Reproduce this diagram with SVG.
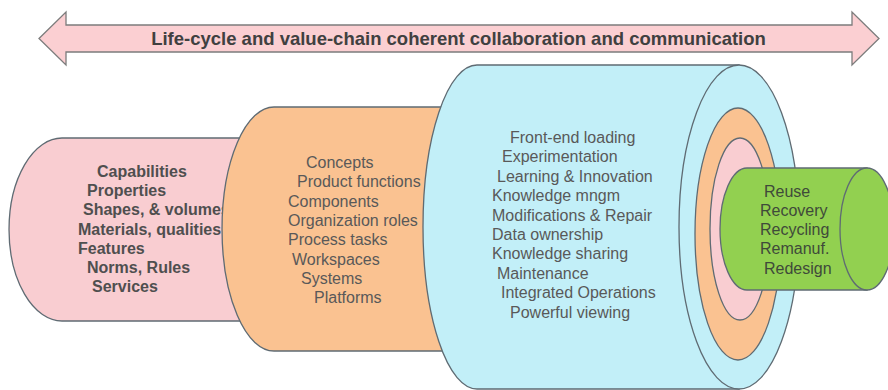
<svg xmlns="http://www.w3.org/2000/svg" width="888" height="390" viewBox="0 0 888 390">
<style>
.shape{stroke:#5f6b73;stroke-width:1.3}
.pink{fill:#f9cdd1}
.orange{fill:#fac291}
.blue{fill:#c2eff8}
.green{fill:#92d050}
text{font-family:"Liberation Sans",Arial,sans-serif;font-size:16px;fill:#595959}
.b{font-weight:bold;fill:#4f4f4f}
.g{fill:#3f4a3a}
</style>
<rect width="888" height="390" fill="#ffffff"/>
<g id="top-arrow">
<polygon points="39,38.5 66,12 66,25 852,25 852,12 879,38.5 852,65 852,52 66,52 66,65" fill="#fbcfd2" stroke="#7c7c7c" stroke-width="1.3"/>
<text x="458.5" y="45" text-anchor="middle" class="b" style="font-size:18.5px;fill:#404040">Life-cycle and value-chain coherent collaboration and communication</text>
</g>
<g id="pink-cylinder">
<path class="shape pink" d="M62,138 H290 V321 H62 A53 91.5 0 0 1 62 138 Z"/>
<text class="b" x="97" y="177">Capabilities</text>
<text class="b" x="87" y="196.2">Properties</text>
<text class="b" x="83" y="215.4">Shapes, &amp; volumes</text>
<text class="b" x="78" y="234.6">Materials, qualities</text>
<text class="b" x="78" y="253.8">Features</text>
<text class="b" x="87" y="273">Norms, Rules</text>
<text class="b" x="92" y="292.2">Services</text>
</g>
<g id="orange-cylinder">
<path class="shape orange" d="M274,107 H480 V351 H274 A52 122 0 0 1 274 107 Z"/>
<text x="306" y="168">Concepts</text>
<text x="297" y="187.3">Product functions</text>
<text x="288" y="206.6">Components</text>
<text x="288" y="225.9">Organization roles</text>
<text x="288" y="245.2">Process tasks</text>
<text x="292" y="264.5">Workspaces</text>
<text x="301" y="283.8">Systems</text>
<text x="314" y="303.1">Platforms</text>
</g>
<g id="blue-cylinder">
<path class="shape blue" d="M477,65 H739 V389 H477 A54 162 0 0 1 477 65 Z"/>
<ellipse class="shape blue" cx="739" cy="227" rx="60" ry="162"/>
<text x="510" y="143">Front-end loading</text>
<text x="502" y="162.4">Experimentation</text>
<text x="497" y="181.8">Learning &amp; Innovation</text>
<text x="492" y="201.2">Knowledge mngm</text>
<text x="492" y="220.6">Modifications &amp; Repair</text>
<text x="492" y="240">Data ownership</text>
<text x="492" y="259.4">Knowledge sharing</text>
<text x="497" y="278.8">Maintenance</text>
<text x="501" y="298.2">Integrated Operations</text>
<text x="510" y="317.6">Powerful viewing</text>
</g>
<g id="end-rings">
<ellipse class="shape orange" cx="738" cy="234" rx="43" ry="126"/>
<ellipse class="shape pink" cx="740" cy="229" rx="30" ry="91"/>
</g>
<g id="green-cylinder">
<path class="shape green" d="M747,168 H867 V290 H747 A27 61 0 0 1 747 168 Z"/>
<ellipse class="shape green" cx="867" cy="229" rx="27" ry="61"/>
<text class="g" x="764" y="196.5">Reuse</text>
<text class="g" x="760" y="215.5">Recovery</text>
<text class="g" x="760" y="235">Recycling</text>
<text class="g" x="760" y="254">Remanuf.</text>
<text class="g" x="764" y="273.5">Redesign</text>
</g>
<g id="connectors"></g>
</svg>
